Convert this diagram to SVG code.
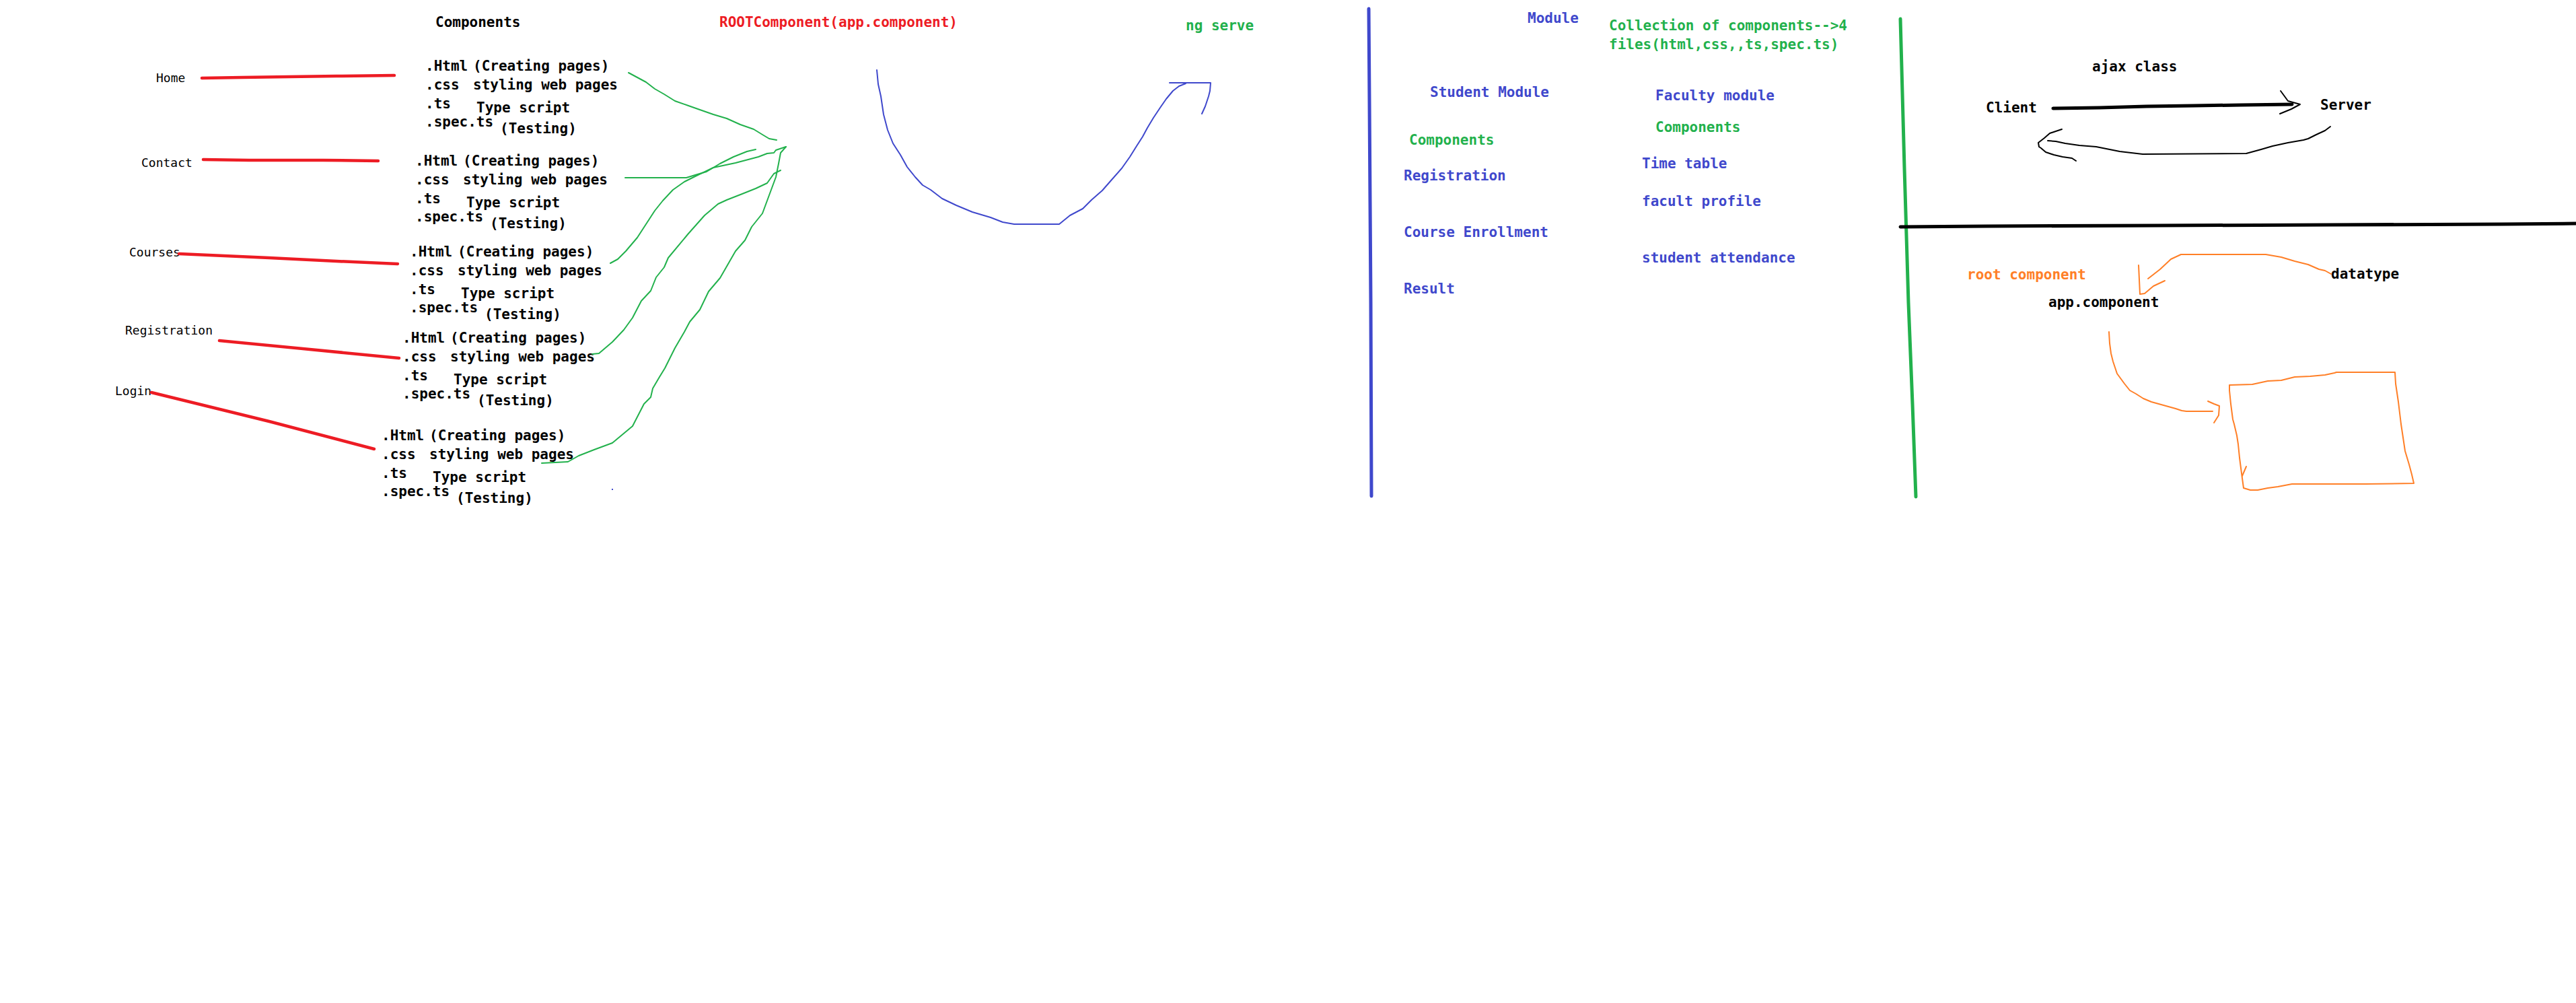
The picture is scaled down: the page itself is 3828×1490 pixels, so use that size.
<svg xmlns="http://www.w3.org/2000/svg" width="3828" height="1490" viewBox="0 0 3828 1490">
<style>
text{font-family:"DejaVu Sans Mono","Liberation Mono",monospace;font-weight:bold;font-size:21px}
.lbl{font-weight:normal;font-size:18px}
.k{fill:#000}
.b{fill:#3f48cc}
.g{fill:#22b14c}
.r{fill:#ed1c24}
.o{fill:#ff7f27}
.ln{fill:none;stroke-linejoin:round;stroke-linecap:round}
.red{stroke:#ed1c24;stroke-width:4.5}
.grn{stroke:#22b14c;stroke-width:2}
.blu{stroke:#3f48cc;stroke-width:2}
.org{stroke:#ff7f27;stroke-width:2}
.blk{stroke:#000;stroke-width:2}
</style>
<defs>
<g id="files">
<text x="0" y="0">.Html</text><text x="71" y="0">(Creating pages)</text>
<text x="0" y="28">.css</text><text x="71" y="28">styling web pages</text>
<text x="0" y="56">.ts</text><text x="76" y="62">Type script</text>
<text x="0" y="83">.spec.ts</text><text x="111" y="93">(Testing)</text>
</g>
</defs>
<rect width="3828" height="1490" fill="#fff"/>

<g id="title-components"><text class="k" x="647" y="40">Components</text></g>
<g id="title-root"><text class="r" x="1069" y="40">ROOTComponent(app.component)</text></g>
<g id="title-ngserve"><text class="g" x="1762" y="45">ng serve</text></g>

<g id="label-home"><text class="k lbl" x="232" y="122">Home</text></g>
<g id="label-contact"><text class="k lbl" x="210" y="248">Contact</text></g>
<g id="label-courses"><text class="k lbl" x="192" y="381">Courses</text></g>
<g id="label-registration"><text class="k lbl" x="186" y="497">Registration</text></g>
<g id="label-login"><text class="k lbl" x="171" y="587">Login</text></g>

<g id="block-home" class="k" transform="translate(632,105)"><use href="#files"/></g>
<g id="block-contact" class="k" transform="translate(617,246)"><use href="#files"/></g>
<g id="block-courses" class="k" transform="translate(609,381)"><use href="#files"/></g>
<g id="block-registration" class="k" transform="translate(598,509)"><use href="#files"/></g>
<g id="block-login" class="k" transform="translate(567,654)"><use href="#files"/></g>

<g id="module-section">
<text class="b" x="2270" y="34">Module</text>
<text class="g" x="2391" y="45">Collection of components--&gt;4</text>
<text class="g" x="2391" y="73">files(html,css,,ts,spec.ts)</text>
<text class="b" x="2125" y="144">Student Module</text>
<text class="b" x="2460" y="149">Faculty module</text>
<text class="g" x="2460" y="196">Components</text>
<text class="g" x="2094" y="215">Components</text>
<text class="b" x="2440" y="250">Time table</text>
<text class="b" x="2086" y="268">Registration</text>
<text class="b" x="2440" y="306">facult profile</text>
<text class="b" x="2086" y="352">Course Enrollment</text>
<text class="b" x="2440" y="390">student attendance</text>
<text class="b" x="2086" y="436">Result</text>
</g>

<g id="ajax-section">
<text class="k" x="3109" y="106">ajax class</text>
<text class="k" x="2951" y="167">Client</text>
<text class="k" x="3448" y="163">Server</text>
</g>

<g id="root-section">
<text class="o" x="2923" y="415">root component</text>
<text class="k" x="3044" y="456">app.component</text>
<text class="k" x="3464" y="414">datatype</text>
<polygon id="box" class="ln org" points="3313,572 3347,571 3370,566 3390,565 3410,560 3433,559 3455,557 3469,554 3472,553 3559,553 3560,570 3564,597 3568,630 3574,670 3580,690 3584,705 3587,718 3515,719 3406,719 3385,723 3370,725 3355,728 3344,728 3334,725 3331,703 3328,680 3326,660 3324,647 3320,630 3318,623 3315,600 3313,580"/>
<polyline class="ln org" points="3338,693 3332,707"/>
</g>

<g id="dividers" class="ln">
<polyline stroke="#3f48cc" stroke-width="5" points="2034,13 2035,150 2036,300 2037,450 2038,737"/>
<polyline stroke="#22b14c" stroke-width="5" points="2824,28 2830,250 2836,450 2842,600 2847,738"/>
<polyline stroke="#000" stroke-width="5" points="2824,337 2952,336 3208,335 3462,334 3718,333 3828,332"/>
</g>

<g id="connectors" class="ln">
<polyline class="red" points="300,116 360,115 430,114 500,113 586,112"/>
<polyline class="red" points="302,237 370,238 480,238 562,239"/>
<polyline class="red" points="266,377 400,383 500,388 591,392"/>
<polyline class="red" points="326,506 450,518 593,532"/>
<polyline class="red" points="225,583 400,626 556,667"/>

<polyline class="grn" points="934,108 960,122 973,132 987,140 1003,150 1023,157 1040,163 1060,170 1080,176 1100,185 1120,192 1133,200 1143,206 1154,208"/>
<polyline class="grn" points="929,264 1020,264 1033,260 1050,255 1070,243 1090,233 1110,225 1123,222"/>
<polyline class="grn" points="907,391 918,385 930,373 947,353 960,333 973,313 985,298 1000,282 1017,270 1033,262 1060,249 1093,242 1127,233 1140,228 1150,227 1153,223 1168,218"/>
<polyline class="grn" points="880,526 890,525 910,508 927,490 940,472 953,447 967,432 975,412 987,397 993,383 1023,347 1047,320 1067,303 1080,297 1103,288 1123,280 1140,272 1150,258 1160,253"/>
<polyline class="grn" points="805,688 844,686 860,677 883,668 910,658 928,643 940,633 957,600 967,590 970,577 980,560 988,547 993,537 1003,517 1017,493 1025,478 1040,460 1053,433 1070,413 1093,373 1107,357 1117,337 1133,317 1143,290 1153,263 1157,243 1160,227 1168,218"/>
<rect x="909" y="726" width="2" height="2" fill="#3f48cc"/>

<polyline class="blu" points="1303,104 1305,125 1309,143 1313,170 1319,193 1327,213 1338,230 1348,248 1360,263 1371,275 1383,282 1400,295 1421,305 1445,315 1472,323 1490,330 1507,333 1574,333 1590,320 1609,310 1622,297 1638,283 1652,267 1667,250 1679,233 1689,217 1698,203 1705,190 1714,175 1724,160 1733,147 1743,135 1752,128 1762,124"/>
<polyline class="blu" points="1738,123 1799,123 1798,135 1796,143 1791,158 1786,169"/>

<polyline class="ln" stroke="#000" stroke-width="5" points="3051,161 3120,160 3190,158 3260,157 3330,156 3406,155"/>
<polyline class="blk" points="3389,135 3400,150 3418,155 3405,162 3388,169"/>
<polyline class="blk" points="3463,188 3455,194 3442,200 3430,206 3423,208 3400,212 3377,217 3360,222 3338,228 3184,229 3150,225 3115,218 3090,216 3069,213 3055,210 3043,209"/>
<polyline class="blk" points="3064,192 3055,195 3046,198 3038,205 3029,212 3030,218 3033,220 3040,226 3052,230 3065,233 3079,235 3085,239"/>

<polyline class="org" points="3464,407 3455,402 3446,400 3430,393 3410,388 3390,382 3367,378 3241,378 3226,385 3210,400 3192,414"/>
<polyline class="org" points="3178,394 3180,437 3187,436 3200,425 3217,417"/>
<polyline class="org" points="3134,493 3135,510 3137,525 3140,537 3146,555 3157,570 3165,580 3174,585 3185,592 3197,597 3215,602 3233,607 3242,610 3249,611 3288,611"/>
<polyline class="org" points="3281,596 3290,600 3298,603 3297,617 3290,628"/>
</g>
</svg>
